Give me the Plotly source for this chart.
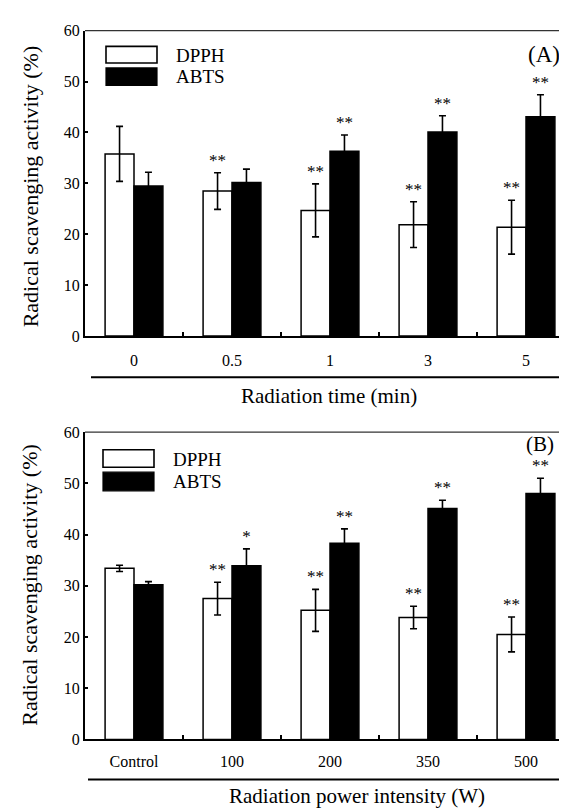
import plotly.graph_objects as go

# ---------------- data ----------------
time_labels = ["0", "0.5", "1", "3", "5"]
dpph_time = [35.8, 28.5, 24.7, 21.9, 21.4]
dpph_time_err = [5.4, 3.6, 5.2, 4.5, 5.3]
abts_time = [29.5, 30.2, 36.3, 40.1, 43.1]
abts_time_err = [2.7, 2.6, 3.2, 3.2, 4.3]
dpph_time_sig = ["", "**", "**", "**", "**"]
abts_time_sig = ["", "", "**", "**", "**"]

power_labels = ["Control", "100", "200", "350", "500"]
dpph_power = [33.4, 27.5, 25.2, 23.8, 20.5]
dpph_power_err = [0.6, 3.2, 4.1, 2.2, 3.4]
abts_power = [30.2, 33.9, 38.3, 45.1, 48.0]
abts_power_err = [0.6, 3.3, 2.8, 1.6, 3.0]
dpph_power_sig = ["", "**", "**", "**", "**"]
abts_power_sig = ["", "*", "**", "**", "**"]

y_ticks = [0, 10, 20, 30, 40, 50, 60]

# ---------------- layout helpers ----------------
W, H = 567, 809
ML = 77
PW = W - ML
FONT = "Liberation Serif, Times New Roman, serif"
BARGAP = 0.41
HALF = (1 - BARGAP) / 4  # centre offset of each bar within a group
STAR_PAD = 2.2


def px_x(px):
    return (px - ML) / PW


def px_y(py):
    return 1 - py / H


fig = go.Figure()


def add_panel(xa, ya, labels, dpph, dpph_err, abts, abts_err, dsig, asig):
    x = list(range(len(labels)))
    fig.add_trace(go.Bar(
        x=x, y=dpph, name="DPPH", xaxis=xa, yaxis=ya, showlegend=False,
        marker=dict(color="white", line=dict(color="black", width=1.5)),
        error_y=dict(type="data", array=dpph_err, visible=True, color="black",
                     thickness=1.6, width=3.5),
    ))
    fig.add_trace(go.Bar(
        x=x, y=abts, name="ABTS", xaxis=xa, yaxis=ya, showlegend=False,
        marker=dict(color="black", line=dict(color="black", width=1.5)),
        error_y=dict(type="data", array=abts_err, visible=True, color="black",
                     thickness=1.6, width=3.5),
    ))
    fig.add_trace(go.Scatter(
        x=[i - HALF for i in x], y=[v + e + STAR_PAD for v, e in zip(dpph, dpph_err)],
        text=dsig, mode="text", xaxis=xa, yaxis=ya, showlegend=False,
        textfont=dict(family=FONT, size=17, color="black"), hoverinfo="skip",
    ))
    fig.add_trace(go.Scatter(
        x=[i + HALF for i in x], y=[v + e + STAR_PAD for v, e in zip(abts, abts_err)],
        text=asig, mode="text", xaxis=xa, yaxis=ya, showlegend=False,
        textfont=dict(family=FONT, size=17, color="black"), hoverinfo="skip",
    ))


add_panel("x", "y", time_labels, dpph_time, dpph_time_err, abts_time,
          abts_time_err, dpph_time_sig, abts_time_sig)
add_panel("x2", "y2", power_labels, dpph_power, dpph_power_err, abts_power,
          abts_power_err, dpph_power_sig, abts_power_sig)


def xaxis_cfg(labels, anchor, standoff):
    return dict(
        domain=[0, 1], anchor=anchor, range=[-0.5, len(labels) - 0.5],
        tickmode="array", tickvals=list(range(len(labels))), ticktext=labels,
        ticks="", showline=True, linewidth=2, linecolor="black",
        showgrid=False, zeroline=False, ticklabelstandoff=standoff,
        tickfont=dict(family=FONT, size=16, color="black"),
        minor=dict(tickmode="array", tickvals=[i + 0.5 for i in range(len(labels) - 1)],
                   ticks="inside", ticklen=4, tickwidth=1.5, tickcolor="black"),
    )


def yaxis_cfg(domain, anchor):
    return dict(
        domain=domain, anchor=anchor, range=[0, 60],
        tickmode="array", tickvals=y_ticks,
        ticks="inside", ticklen=3, tickwidth=1.5, tickcolor="black",
        showline=True, linewidth=2, linecolor="black",
        showgrid=False, zeroline=False,
        tickfont=dict(family=FONT, size=16, color="black"),
    )


domA = [px_y(327), px_y(15)]
domB = [px_y(739), px_y(425)]

shapes = []
annotations = []

# top frame lines
for xr, yr in (("x domain", "y domain"), ("x2 domain", "y2 domain")):
    shapes.append(dict(type="line", xref=xr, yref=yr, x0=0, x1=1, y0=1, y1=1,
                       line=dict(color="#333", width=1.3)))

# separator lines under the category labels
shapes.append(dict(type="line", xref="paper", yref="paper", x0=px_x(83), x1=px_x(560),
                   y0=px_y(369), y1=px_y(369), line=dict(color="black", width=2)))
shapes.append(dict(type="line", xref="paper", yref="paper", x0=px_x(80), x1=px_x(560),
                   y0=px_y(780), y1=px_y(780), line=dict(color="black", width=2)))


def legend(x0, x1, wy0, wy1, by0, by1, tx, ty1, ty2):
    shapes.append(dict(type="rect", xref="paper", yref="paper", x0=px_x(x0), x1=px_x(x1),
                       y0=px_y(wy1), y1=px_y(wy0), fillcolor="white",
                       line=dict(color="black", width=1.6)))
    shapes.append(dict(type="rect", xref="paper", yref="paper", x0=px_x(x0), x1=px_x(x1),
                       y0=px_y(by1), y1=px_y(by0), fillcolor="black",
                       line=dict(color="black", width=1.2)))
    for t, yy in (("DPPH", ty1), ("ABTS", ty2)):
        annotations.append(dict(text=t, xref="paper", yref="paper", x=px_x(tx), y=px_y(yy),
                                xanchor="left", yanchor="middle", showarrow=False,
                                font=dict(family=FONT, size=19, color="black")))


legend(98, 149, 31, 48, 53, 71, 166, 40, 62)
legend(95, 146, 443, 461, 466, 485, 163, 453, 476)

# panel letters
for t, xx, yy, sz in (("(A)", 536, 39, 23), ("(B)", 532, 437, 21)):
    annotations.append(dict(text=t, xref="paper", yref="paper", x=px_x(xx), y=px_y(yy),
                            xanchor="center", yanchor="middle", showarrow=False,
                            font=dict(family=FONT, size=sz, color="black")))

# axis titles
for t, yy in (("Radical scavenging activity (%)", 174), ("Radical scavenging activity (%)", 581)):
    annotations.append(dict(text=t, xref="paper", yref="paper", x=px_x(22), y=px_y(yy),
                            xanchor="center", yanchor="middle", textangle=-90, showarrow=False,
                            font=dict(family=FONT, size=22, color="black")))
for t, xx, yy in (("Radiation time (min)", 321, 388), ("Radiation power intensity (W)", 349, 797)):
    annotations.append(dict(text=t, xref="paper", yref="paper", x=px_x(xx), y=px_y(yy),
                            xanchor="center", yanchor="middle", showarrow=False,
                            font=dict(family=FONT, size=21, color="black")))

fig.update_layout(
    width=W, height=H,
    margin=dict(l=ML, r=0, t=0, b=0),
    paper_bgcolor="white", plot_bgcolor="white",
    barmode="group", bargap=BARGAP, bargroupgap=0,
    xaxis=xaxis_cfg(time_labels, "y", 9),
    yaxis=yaxis_cfg(domA, "x"),
    xaxis2=xaxis_cfg(power_labels, "y2", 6),
    yaxis2=yaxis_cfg(domB, "x2"),
    shapes=shapes, annotations=annotations,
    font=dict(family=FONT, color="black"),
)

fig.write_html("out.html")
